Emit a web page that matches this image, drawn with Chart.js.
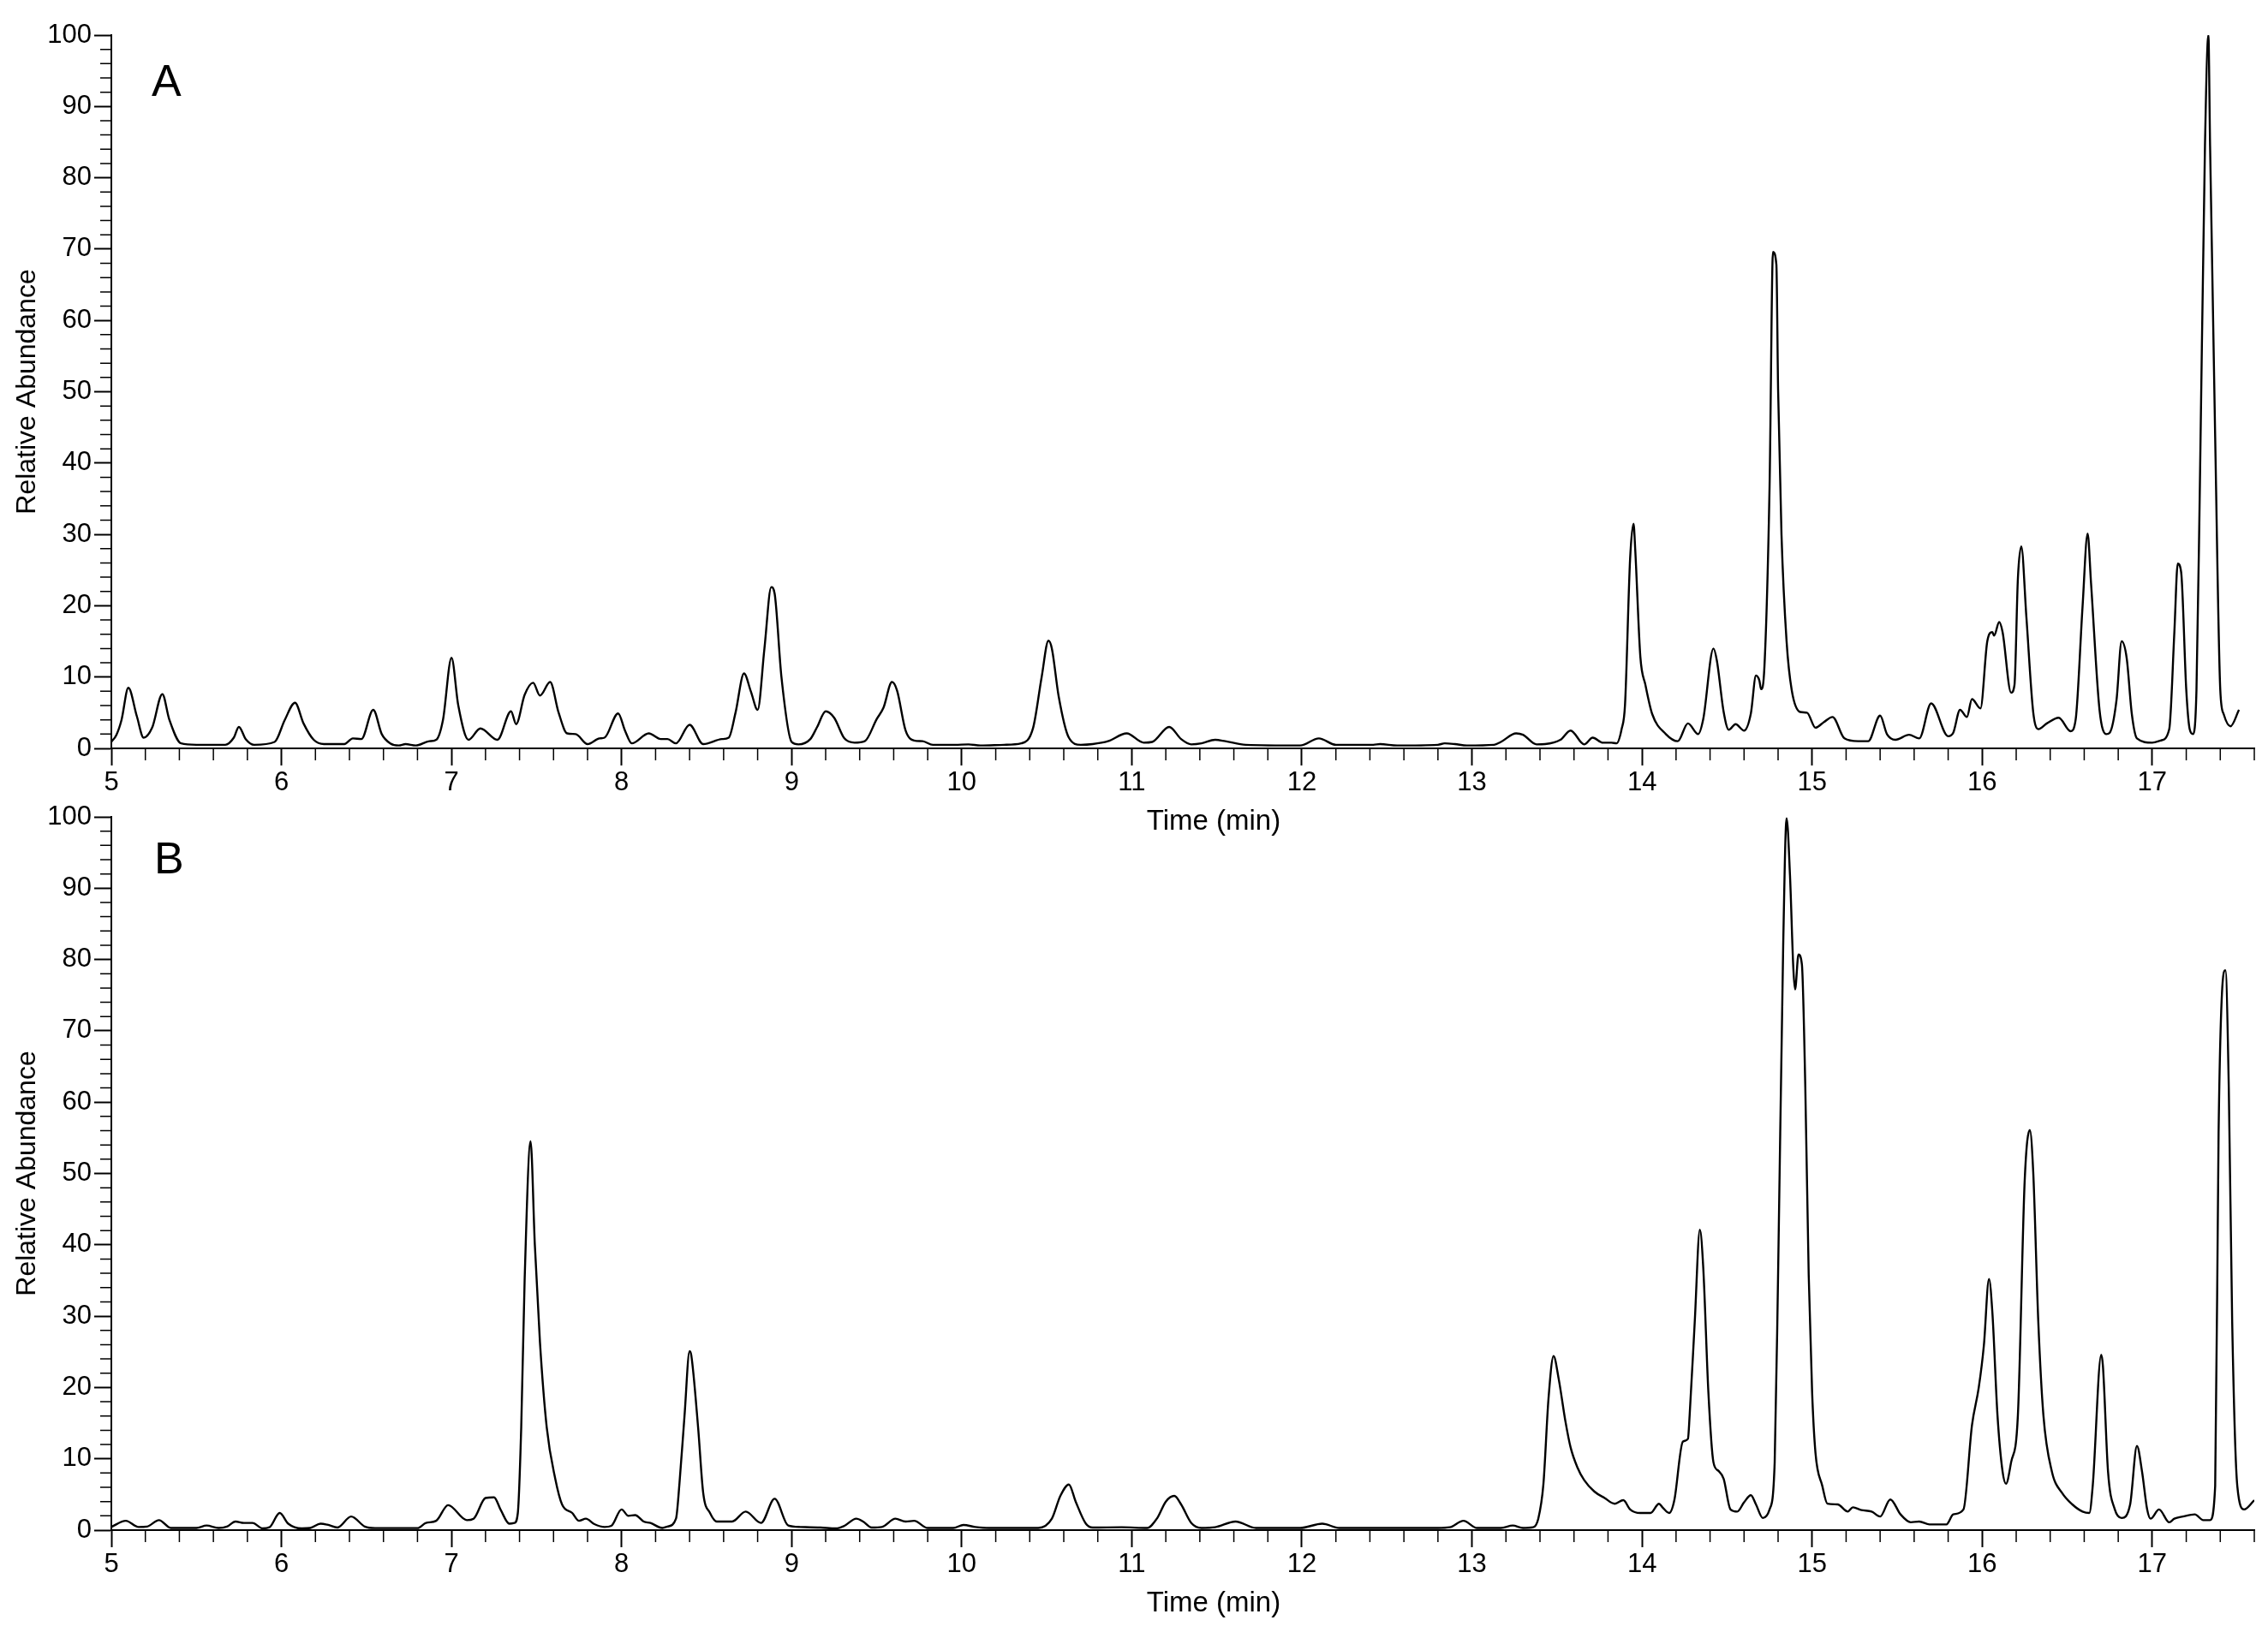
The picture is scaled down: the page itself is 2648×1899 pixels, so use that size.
<!DOCTYPE html>
<html><head><meta charset="utf-8">
<script src="https://cdn.jsdelivr.net/npm/chart.js@4.4.1/dist/chart.umd.min.js"></script>
<style>
html,body{margin:0;padding:0;background:#fff;width:2648px;height:1899px;overflow:hidden;}
.wrap{position:absolute;left:0;width:2648px;}
#wa{top:0;height:980px;}
#wb{top:900px;height:999px;}
canvas{display:block;}
</style></head><body>
<div class="wrap" id="wa"><canvas id="ca" width="2648" height="980"></canvas></div>
<div class="wrap" id="wb"><canvas id="cb" width="2648" height="999"></canvas></div>
<script>
// ---- data ----
const timeA = [5.00,5.03,5.06,5.10,5.15,5.19,5.24,5.30,5.34,5.41,5.50,5.67,5.72,5.75,5.79,5.84,5.96,6.02,6.08,6.13,6.19,6.25,6.37,6.42,6.47,6.54,6.59,6.64,6.69,6.73,6.79,6.87,6.91,6.95,7.00,7.04,7.10,7.17,7.27,7.35,7.38,7.43,7.48,7.52,7.58,7.63,7.68,7.73,7.80,7.87,7.90,7.98,8.02,8.06,8.16,8.23,8.27,8.32,8.40,8.48,8.59,8.63,8.67,8.72,8.76,8.80,8.84,8.88,8.90,8.94,9.00,9.04,9.11,9.15,9.20,9.25,9.31,9.37,9.43,9.50,9.54,9.59,9.62,9.67,9.72,9.77,9.83,9.96,10.04,10.11,10.25,10.35,10.42,10.47,10.51,10.53,10.57,10.63,10.70,10.77,10.86,10.97,11.07,11.12,11.22,11.29,11.35,11.41,11.49,11.55,11.67,11.99,12.10,12.20,12.42,12.46,12.56,12.80,12.84,12.90,12.97,13.13,13.17,13.26,13.30,13.38,13.43,13.52,13.58,13.66,13.71,13.77,13.82,13.85,13.88,13.90,13.93,13.95,13.96,13.99,14.02,14.06,14.14,14.21,14.27,14.33,14.36,14.42,14.44,14.48,14.51,14.55,14.60,14.64,14.67,14.69,14.70,14.72,14.75,14.77,14.79,14.80,14.82,14.85,14.88,14.93,14.97,15.02,15.07,15.12,15.19,15.27,15.33,15.40,15.44,15.49,15.57,15.63,15.70,15.80,15.83,15.87,15.91,15.94,15.99,16.03,16.06,16.07,16.10,16.12,16.17,16.19,16.21,16.23,16.26,16.30,16.33,16.38,16.45,16.52,16.55,16.59,16.62,16.64,16.69,16.73,16.75,16.79,16.82,16.85,16.88,16.91,17.00,17.05,17.10,17.13,17.15,17.17,17.20,17.22,17.24,17.26,17.28,17.31,17.33,17.34,17.37,17.40,17.42,17.46,17.51];
const abundanceA = [0.9,1.9,4.0,8.5,4.5,1.5,2.9,7.6,4.1,0.7,0.5,0.5,1.5,3.0,1.3,0.5,0.9,4.0,6.4,3.5,1.2,0.6,0.6,1.4,1.3,5.4,2.0,0.7,0.4,0.6,0.4,1.0,1.2,4.0,12.7,6.0,1.2,2.8,1.2,5.2,3.4,7.5,9.2,7.4,9.3,5.0,2.1,2.0,0.6,1.4,1.5,4.9,2.5,0.7,2.1,1.3,1.3,0.7,3.3,0.6,1.3,1.5,5.0,10.5,8.0,5.4,14.0,22.6,21.7,10.0,0.9,0.56,1.3,3.0,5.2,4.3,1.4,0.8,1.0,4.1,5.7,9.3,8.1,2.5,1.1,1.0,0.5,0.5,0.56,0.4,0.5,0.7,2.9,10.0,15.1,14.0,7.3,1.5,0.5,0.6,1.0,2.1,0.8,0.9,3.0,1.3,0.56,0.7,1.2,1.0,0.5,0.4,1.4,0.5,0.5,0.6,0.4,0.5,0.7,0.6,0.4,0.5,0.9,2.1,1.9,0.56,0.6,1.2,2.5,0.56,1.5,0.8,0.8,0.7,2.7,6.1,26.6,31.5,27.9,12.9,8.9,4.8,2.0,1.0,3.5,2.0,4.1,14.0,12.3,5.1,2.6,3.4,2.5,4.9,10.2,9.5,8.3,11.6,36.8,69.6,67.8,50.4,30.0,15.0,8.2,5.1,5.0,2.9,3.7,4.4,1.4,1.0,1.0,4.6,2.0,1.2,1.9,1.4,6.3,1.7,2.2,5.4,4.4,6.9,5.6,15.0,16.3,15.8,17.7,16.3,7.8,8.9,23.8,28.3,18.4,5.1,2.7,3.5,4.3,2.4,4.1,19.8,30.1,23.2,5.4,2.0,2.2,6.8,15.0,12.6,4.8,1.4,0.8,1.1,2.7,16.3,25.9,24.7,8.2,2.7,2.0,8.2,36.8,84.5,100,84.5,43.6,8.2,4.8,3.1,5.4];

const timeB = [5.00,5.085,5.16,5.21,5.28,5.35,5.50,5.56,5.63,5.68,5.73,5.78,5.83,5.89,5.93,5.99,6.04,6.12,6.17,6.23,6.27,6.33,6.41,6.49,6.55,6.80,6.85,6.91,6.98,7.09,7.13,7.20,7.25,7.29,7.34,7.37,7.39,7.41,7.43,7.465,7.49,7.52,7.56,7.61,7.65,7.71,7.75,7.79,7.84,7.90,7.94,8.00,8.04,8.08,8.13,8.17,8.24,8.27,8.32,8.34,8.37,8.40,8.41,8.45,8.48,8.52,8.56,8.65,8.73,8.82,8.90,8.98,9.05,9.17,9.26,9.31,9.38,9.42,9.47,9.53,9.61,9.67,9.72,9.80,9.95,10.01,10.08,10.16,10.45,10.53,10.58,10.63,10.67,10.73,10.77,10.94,11.09,11.15,11.20,11.25,11.29,11.35,11.41,11.49,11.61,11.73,11.99,12.12,12.22,12.80,12.87,12.95,13.03,13.17,13.24,13.30,13.36,13.39,13.42,13.45,13.48,13.51,13.55,13.58,13.62,13.66,13.72,13.78,13.84,13.89,13.93,13.99,14.05,14.10,14.12,14.16,14.19,14.24,14.27,14.28,14.31,14.34,14.36,14.39,14.42,14.45,14.48,14.52,14.56,14.60,14.64,14.67,14.71,14.75,14.78,14.80,14.83,14.85,14.87,14.89,14.90,14.92,14.94,14.96,14.98,15.00,15.02,15.06,15.09,15.15,15.21,15.24,15.29,15.35,15.40,15.46,15.52,15.58,15.63,15.69,15.79,15.83,15.89,15.94,15.98,16.01,16.04,16.06,16.09,16.12,16.14,16.17,16.21,16.25,16.28,16.30,16.33,16.36,16.41,16.47,16.53,16.59,16.63,16.65,16.70,16.71,16.74,16.78,16.82,16.87,16.91,16.94,16.97,16.99,17.04,17.10,17.13,17.18,17.25,17.30,17.34,17.37,17.39,17.41,17.43,17.45,17.47,17.50,17.54,17.60];
const abundanceB = [0.44,1.3,0.44,0.5,1.4,0.3,0.3,0.64,0.3,0.5,1.2,1.0,1.0,0.24,0.4,2.4,0.9,0.24,0.3,0.9,0.76,0.36,1.9,0.5,0.28,0.28,1.0,1.3,3.5,1.4,1.6,4.5,4.6,2.8,0.9,1.0,2.4,14.4,35.0,54.5,40.0,26.4,14.4,7.2,3.6,2.4,1.3,1.6,0.84,0.44,0.6,2.9,2.0,2.1,1.2,1.0,0.3,0.5,1.6,6.4,16.0,25.1,24.5,14.4,5.2,2.4,1.2,1.2,2.6,1.0,4.4,0.64,0.44,0.36,0.24,0.6,1.6,1.2,0.36,0.44,1.6,1.2,1.3,0.3,0.3,0.72,0.44,0.3,0.3,1.6,4.8,6.4,4.0,0.9,0.36,0.4,0.3,1.7,4.0,4.8,3.6,1.0,0.3,0.4,1.2,0.3,0.3,0.9,0.3,0.3,0.4,1.3,0.3,0.3,0.64,0.3,0.4,1.6,6.4,18.4,24.4,21.2,15.2,11.6,8.8,7.0,5.4,4.5,3.7,4.2,2.9,2.4,2.4,3.7,3.2,2.4,4.2,12.4,12.8,16.1,29.2,42.1,36.8,19.4,9.5,8.3,7.2,2.9,2.6,3.9,4.9,3.6,1.7,2.9,9.5,35.8,81.9,99.8,91.8,78.6,75.8,80.7,79.3,62.1,35.8,19.4,10.8,6.2,3.7,3.6,2.6,3.2,2.8,2.6,1.9,4.3,2.2,1.1,1.2,0.8,0.8,2.2,2.9,14.7,20.0,25.9,35.2,30.5,16.1,8.2,6.5,9.5,16.1,49.0,56.1,50.3,29.2,16.1,8.2,5.2,3.6,2.6,2.4,6.2,24.6,23.0,8.2,2.9,1.7,3.6,11.8,8.2,2.9,1.6,2.9,1.1,1.6,1.9,2.2,1.4,1.4,6.2,55.6,75.3,78.5,62.1,29.2,6.2,2.9,4.2];

const xTickValues = [5,6,7,8,9,10,11,12,13,14,15,16,17];
const yTickValues = [0,10,20,30,40,50,60,70,80,90,100];
const panelLabels = ['A','B'];
const xTitle = 'Time (min)';
const yTitle = 'Relative Abundance';

// ---- styling / construction ----
const FONT = "'Liberation Sans', Arial, Helvetica, sans-serif";
const PLOT_H = 833;

const decor = {
  id: 'decor',
  afterDraw(chart, args, o) {
    const {ctx, chartArea, scales} = chart;
    const xs = scales.x, ys = scales.y;
    ctx.save();
    ctx.strokeStyle = '#000';
    ctx.lineWidth = 1.5;
    ctx.beginPath();
    const nx = Math.round((xs.max - xs.min) / 0.2);
    for (let i = 0; i <= nx; i++) {
      const v = xs.min + i * 0.2;
      if (Math.abs(v - Math.round(v)) < 1e-6) continue;
      const px = xs.getPixelForValue(v);
      ctx.moveTo(px, chartArea.bottom);
      ctx.lineTo(px, chartArea.bottom + 14);
    }
    for (let v = 0; v <= 100; v += 2) {
      if (v % 10 === 0) continue;
      const py = ys.getPixelForValue(v);
      ctx.moveTo(chartArea.left - 13, py);
      ctx.lineTo(chartArea.left, py);
    }
    ctx.stroke();
    ctx.fillStyle = '#000';
    ctx.font = '52px ' + FONT;
    ctx.textAlign = 'left';
    ctx.textBaseline = 'alphabetic';
    ctx.fillText(o.label, chartArea.left + o.dx, chartArea.top + o.dy);
    ctx.font = '33px ' + FONT;
    ctx.textAlign = 'center';
    ctx.fillText(xTitle, 1417, chartArea.bottom + 95);
    ctx.restore();
  }
};

function makeChart(id, times, values, label, topPad, canvasH, dx, dy) {
  const xh = canvasH - topPad - PLOT_H;
  const tickFont = {family: FONT, size: 31};
  const grid = {display: true, drawOnChartArea: false, drawTicks: true, tickLength: 20, tickWidth: 2, tickColor: '#000'};
  const border = {display: true, color: '#000', width: 2};
  return new Chart(document.getElementById(id), {
    type: 'line',
    data: {
      datasets: [{
        data: times.map((t, i) => ({x: t, y: values[i]})),
        borderColor: '#000',
        borderWidth: 2.4,
        pointRadius: 0,
        fill: false,
        cubicInterpolationMode: 'monotone'
      }]
    },
    options: {
      responsive: false,
      animation: false,
      devicePixelRatio: 1,
      layout: {padding: {left: 0, right: 16, top: topPad, bottom: 0}},
      plugins: {legend: {display: false}, tooltip: {enabled: false}, decor: {label, dx, dy}},
      scales: {
        x: {
          type: 'linear', min: 5, max: 17.6,
          afterBuildTicks: s => { s.ticks = xTickValues.map(v => ({value: v})); },
          afterFit: s => { s.height = xh; },
          ticks: {font: tickFont, color: '#000', padding: 2, maxRotation: 0, autoSkip: false, callback: v => String(v)},
          grid, border
        },
        y: {
          type: 'linear', min: 0, max: 100,
          afterBuildTicks: s => { s.ticks = yTickValues.map(v => ({value: v})); },
          afterFit: s => { s.width = 130; },
          ticks: {font: tickFont, color: '#000', padding: 3, callback: v => String(v)},
          grid, border,
          title: {display: true, text: yTitle, color: '#000', font: {family: FONT, size: 32}, padding: {top: 13, bottom: 0}}
        }
      }
    },
    plugins: [decor]
  });
}

makeChart('ca', timeA, abundanceA, panelLabels[0], 41, 980, 47, 71);
makeChart('cb', timeB, abundanceB, panelLabels[1], 54, 999, 50, 66);
</script>
</body></html>
